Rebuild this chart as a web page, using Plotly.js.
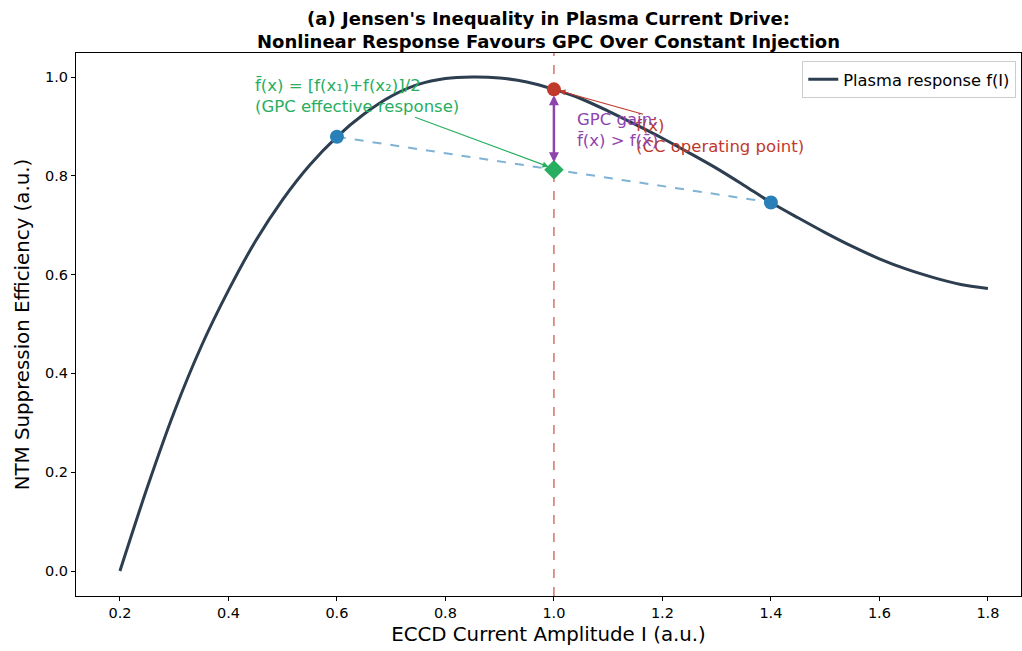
<!DOCTYPE html>
<html><head><meta charset="utf-8">
<script src="https://cdn.plot.ly/plotly-3.0.1.min.js"></script>
<style>body{margin:0;background:#fff}#c{width:1022px;height:651px}</style>
</head><body><div id="c"></div>
<script>
// Plasma response curve f(I)
const currentI = [0.20,0.25,0.30,0.35,0.40,0.45,0.50,0.55,0.60,0.65,0.70,0.75,0.80,0.85,0.90,0.95,1.00,1.05,1.10,1.15,1.20,1.25,1.30,1.35,1.40,1.45,1.50,1.55,1.60,1.65,1.70,1.75,1.80];
const response = [0.000,0.168,0.322,0.455,0.568,0.668,0.752,0.822,0.879,0.925,0.961,0.985,0.997,1.000,0.998,0.990,0.975,0.956,0.931,0.904,0.876,0.846,0.815,0.781,0.746,0.715,0.685,0.657,0.632,0.611,0.594,0.580,0.572];
// GPC two-level points and CC operating point
const gpcX = [0.6, 1.4];
const gpcY = [0.879, 0.746];
const ccX = [1.0];
const ccY = [0.975];
const meanY = [(gpcY[0] + gpcY[1]) / 2];

const font = "DejaVu Sans, sans-serif";
const traces = [
  {x: gpcX, y: gpcY, mode: 'lines', line: {color: '#7fb3d5', width: 2, dash: 'dash'}, showlegend: false, hoverinfo: 'skip'},
  {x: currentI, y: response, mode: 'lines', line: {color: '#2c3e50', width: 3, shape: 'spline', smoothing: 0.8}, name: 'Plasma response f(I)'},
  {x: gpcX, y: gpcY, mode: 'markers', marker: {color: '#2980b9', size: 14}, showlegend: false},
  {x: ccX, y: ccY, mode: 'markers', marker: {color: '#c0392b', size: 14}, showlegend: false},
  {x: ccX, y: meanY, mode: 'markers', marker: {color: '#27ae60', size: 15, symbol: 'diamond'}, showlegend: false}
];

const layout = {
  width: 1022, height: 651,
  margin: {l: 76, r: 1, t: 53, b: 55},
  paper_bgcolor: '#fff', plot_bgcolor: '#fff',
  font: {family: font, color: '#000'},
  title: {text: "<b>(a) Jensen's Inequality in Plasma Current Drive:<br>Nonlinear Response Favours GPC Over Constant Injection</b>",
          font: {size: 18, family: font, color: '#000'}, x: 0.5, xanchor: 'center', xref: 'paper',
          yref: 'container', y: 0.962, yanchor: 'top'},
  xaxis: {range: [0.119, 1.861], tickvals: [0.2,0.4,0.6,0.8,1.0,1.2,1.4,1.6,1.8], ticktext: ['0.2','0.4','0.6','0.8','1.0','1.2','1.4','1.6','1.8'],
          showgrid: false, zeroline: false, showline: true, mirror: true, linecolor: '#000', linewidth: 1,
          ticks: 'outside', ticklen: 4, tickcolor: '#000', tickfont: {size: 14.5},
          title: {text: 'ECCD Current Amplitude I (a.u.)', font: {size: 19.8}, standoff: 6}},
  yaxis: {range: [-0.0506, 1.0486], tickvals: [0,0.2,0.4,0.6,0.8,1.0], ticktext: ['0.0','0.2','0.4','0.6','0.8','1.0'],
          showgrid: false, zeroline: false, showline: true, mirror: true, linecolor: '#000', linewidth: 1,
          ticks: 'outside', ticklen: 4, tickcolor: '#000', tickfont: {size: 14.5},
          title: {text: 'NTM Suppression Efficiency (a.u.)', font: {size: 19.8}, standoff: 10}},
  legend: {x: 0.995, y: 0.985, xanchor: 'right', yanchor: 'top', bgcolor: 'rgba(255,255,255,0.85)', bordercolor: '#cccccc', borderwidth: 1, font: {size: 16.3}},
  shapes: [
    {type: 'line', xref: 'x', yref: 'paper', x0: ccX[0], x1: ccX[0], y0: 0, y1: 1, line: {color: '#d3746b', width: 1.5, dash: 'dash'}, layer: 'below'}
  ],
  annotations: [
    {x: ccX[0], y: ccY[0] - 0.012, ax: ccX[0], ay: meanY[0] + 0.012, xref: 'x', yref: 'y', axref: 'x', ayref: 'y', text: '',
     showarrow: true, arrowside: 'end+start', arrowhead: 2, arrowsize: 0.8, arrowwidth: 2.5, arrowcolor: '#8e44ad'},
    {x: ccX[0] - 0.01, y: meanY[0] + 0.006, ax: 0.637, ay: 0.962, xref: 'x', yref: 'y', axref: 'x', ayref: 'y',
     text: 'f\u0304(x) = [f(x\u2081)+f(x\u2082)]/2<br>(GPC effective response)', align: 'left',
     font: {size: 16.5, color: '#27ae60'}, showarrow: true, arrowhead: 2, arrowsize: 1, arrowwidth: 1.2, arrowcolor: '#27ae60'},
    {x: ccX[0] + 0.01, y: ccY[0] - 0.003, ax: 1.306, ay: 0.881, xref: 'x', yref: 'y', axref: 'x', ayref: 'y',
     text: 'f(x\u0304)<br>(CC operating point)', align: 'left',
     font: {size: 16.5, color: '#c0392b'}, showarrow: true, arrowhead: 2, arrowsize: 1, arrowwidth: 1.2, arrowcolor: '#c0392b'},
    {x: 1.039, y: 0.893, xref: 'x', yref: 'y', xanchor: 'left', yanchor: 'middle', showarrow: false, align: 'left',
     text: 'GPC gain:<br>f\u0304(x) > f(x\u0304)', font: {size: 16.5, color: '#8e44ad'}}
  ]
};
Plotly.newPlot('c', traces, layout, {displayModeBar: false, staticPlot: true});
</script></body></html>
